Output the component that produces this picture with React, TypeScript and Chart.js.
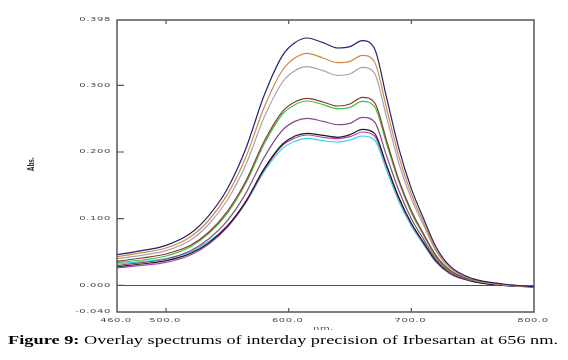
import React, { useEffect, useRef } from 'react';
import { Chart, registerables } from 'chart.js';
Chart.register(...registerables);

const wavelengths = [460, 480, 500, 520, 535, 550, 565, 580, 595, 605, 615, 628, 640, 650, 660, 670, 680, 690, 700, 710, 720, 732, 750, 775, 800];

const seriesNavy = [0.046, 0.052, 0.060, 0.078, 0.105, 0.145, 0.205, 0.285, 0.345, 0.364, 0.371, 0.364, 0.356, 0.358, 0.367, 0.355, 0.280, 0.204, 0.145, 0.100, 0.058, 0.028, 0.010, 0.002, -0.002];
const seriesOrange = [0.043, 0.049, 0.056, 0.073, 0.098, 0.136, 0.192, 0.267, 0.323, 0.341, 0.348, 0.341, 0.334, 0.336, 0.345, 0.335, 0.264, 0.192, 0.137, 0.094, 0.054, 0.026, 0.009, 0.001, -0.002];
const seriesGray = [0.040, 0.045, 0.052, 0.068, 0.092, 0.128, 0.181, 0.252, 0.305, 0.322, 0.328, 0.322, 0.315, 0.317, 0.327, 0.318, 0.251, 0.182, 0.130, 0.090, 0.052, 0.025, 0.009, 0.001, -0.002];
const seriesBrown = [0.036, 0.041, 0.047, 0.060, 0.080, 0.111, 0.156, 0.216, 0.261, 0.275, 0.2805, 0.275, 0.269, 0.272, 0.282, 0.274, 0.216, 0.157, 0.112, 0.077, 0.045, 0.022, 0.008, 0.001, -0.002];
const seriesGreen = [0.034, 0.038, 0.044, 0.058, 0.078, 0.108, 0.153, 0.212, 0.257, 0.271, 0.2765, 0.271, 0.265, 0.267, 0.276, 0.268, 0.211, 0.154, 0.109, 0.075, 0.043, 0.021, 0.008, 0.001, -0.002];
const seriesPurple = [0.030, 0.034, 0.0395, 0.052, 0.070, 0.097, 0.138, 0.192, 0.233, 0.246, 0.2505, 0.246, 0.241, 0.243, 0.252, 0.245, 0.193, 0.141, 0.100, 0.069, 0.040, 0.019, 0.007, 0.001, -0.002];
const seriesBlack = [0.028, 0.032, 0.037, 0.048, 0.064, 0.089, 0.126, 0.175, 0.212, 0.224, 0.228, 0.225, 0.222, 0.226, 0.234, 0.228, 0.179, 0.131, 0.093, 0.064, 0.037, 0.018, 0.006, 0.000, -0.002];
const seriesMagenta = [0.026, 0.030, 0.0345, 0.0455, 0.062, 0.087, 0.124, 0.173, 0.210, 0.221, 0.2255, 0.222, 0.220, 0.223, 0.230, 0.224, 0.177, 0.129, 0.092, 0.063, 0.036, 0.017, 0.006, 0.000, -0.003];
const seriesCyan = [0.032, 0.0355, 0.040, 0.0505, 0.066, 0.089, 0.124, 0.171, 0.2055, 0.216, 0.2205, 0.217, 0.215, 0.218, 0.224, 0.218, 0.172, 0.125, 0.089, 0.061, 0.035, 0.017, 0.006, 0.000, -0.002];

const seriesList = [seriesNavy, seriesOrange, seriesGray, seriesBrown, seriesGreen, seriesPurple, seriesBlack, seriesMagenta, seriesCyan];
const seriesColors = ['#22226e', '#d08a44', '#a8a2b2', '#8a3636', '#3cc43c', '#8c4a8c', '#1c1c1c', '#b048b0', '#36d0e6'];

const xTicks = [460, 500, 600, 700, 800];
const yTicks = [-0.04, 0, 0.1, 0.2, 0.3, 0.398];
const xTitle = 'nm.';
const yTitle = 'Abs.';
const captionBold = 'Figure 9:';
const captionRest = ' Overlay spectrums of interday precision of Irbesartan at 656 nm.';

function drawText(ctx: CanvasRenderingContext2D, text: string, x: number, y: number, font: string, align: CanvasTextAlign, sx: number, sy: number, rot = 0, spacing = '0px', color = '#4a4a4a') {
  ctx.save();
  ctx.translate(x, y);
  if (rot) ctx.rotate(rot);
  ctx.scale(sx, sy);
  ctx.font = font;
  (ctx as any).letterSpacing = spacing;
  ctx.textAlign = align;
  ctx.textBaseline = 'middle';
  ctx.fillStyle = color;
  ctx.fillText(text, 0, 0);
  ctx.restore();
}

const decorPlugin = {
  id: 'decor',
  beforeDatasetsDraw(chart: any) {
    const { ctx, chartArea, scales } = chart;
    const y0 = scales.y.getPixelForValue(0);
    ctx.save();
    ctx.strokeStyle = '#505050';
    ctx.lineWidth = 1;
    ctx.beginPath();
    ctx.moveTo(chartArea.left, Math.round(y0) + 0.5);
    ctx.lineTo(chartArea.right, Math.round(y0) + 0.5);
    ctx.stroke();
    ctx.restore();
  },
  afterDraw(chart: any) {
    const { ctx, chartArea, scales } = chart;
    const { left, right, top, bottom } = chartArea;
    ctx.save();
    ctx.strokeStyle = '#555555';
    ctx.lineWidth = 1.5;
    ctx.strokeRect(left, top, right - left, bottom - top);
    ctx.lineWidth = 1.2;
    ctx.beginPath();
    xTicks.forEach((v) => {
      const px = scales.x.getPixelForValue(v);
      if (v > 460 && v < 800) {
        ctx.moveTo(px, bottom);
        ctx.lineTo(px, bottom - 4);
        ctx.moveTo(px, top);
        ctx.lineTo(px, top + 4);
      }
    });
    yTicks.forEach((v) => {
      const py = scales.y.getPixelForValue(v);
      if (v > -0.04 && v < 0.398) {
        ctx.moveTo(left, py);
        ctx.lineTo(left + 7, py);
      }
    });
    ctx.stroke();
    ctx.restore();

    const tickFont = '10px "DejaVu Sans"';
    xTicks.forEach((v) => {
      const px = scales.x.getPixelForValue(v);
      drawText(ctx, v.toFixed(1), px - 1, bottom + 8.5, tickFont, 'center', 1, 0.55, 0, '0.6px');
    });
    yTicks.forEach((v) => {
      const py = scales.y.getPixelForValue(v);
      drawText(ctx, v.toFixed(3), left - 6, py, tickFont, 'right', 1, 0.55, 0, '0.6px');
    });
    drawText(ctx, xTitle, (left + right) / 2 - 2, bottom + 17, tickFont, 'center', 1, 0.55, 0, '0.6px');
    drawText(ctx, yTitle, 32, 164, 'bold 8px "DejaVu Sans"', 'center', 0.7, 1, -Math.PI / 2, '0px', '#333');

    // caption
    ctx.save();
    ctx.translate(8, 344);
    ctx.scale(1.145, 0.8);
    ctx.fillStyle = '#000';
    ctx.textBaseline = 'alphabetic';
    ctx.textAlign = 'left';
    ctx.font = 'bold 16px "Liberation Serif"';
    ctx.fillText(captionBold, 0, 0);
    const w = ctx.measureText(captionBold).width;
    ctx.font = '16px "Liberation Serif"';
    ctx.fillText(captionRest, w, 0);
    ctx.restore();
  },
};

export default function App() {
  const ref = useRef<HTMLCanvasElement>(null);
  useEffect(() => {
    if (!ref.current) return;
    const datasets = seriesList.map((s, i) => ({
      data: s.map((v, j) => ({ x: wavelengths[j], y: v })),
      borderColor: seriesColors[i],
      backgroundColor: seriesColors[i],
      borderWidth: 1.2,
      pointRadius: 0,
      cubicInterpolationMode: 'monotone' as const,
      fill: false,
    }));
    const chart = new Chart(ref.current, {
      type: 'line',
      data: { datasets },
      options: {
        animation: false,
        responsive: false,
        maintainAspectRatio: false,
        layout: { padding: { left: 0, right: 34, top: 20, bottom: 0 } },
        plugins: { legend: { display: false }, tooltip: { enabled: false } },
        scales: {
          x: {
            type: 'linear', min: 460, max: 800,
            grid: { display: false }, border: { display: false },
            ticks: { display: false },
            afterFit: (s: any) => { s.height = 48; },
          },
          y: {
            min: -0.04, max: 0.398,
            grid: { display: false }, border: { display: false },
            ticks: { display: false },
            afterFit: (s: any) => { s.width = 117; },
          },
        },
      },
      plugins: [decorPlugin],
    });
    return () => chart.destroy();
  }, []);
  return (
    <div style={{ position: 'fixed', left: 0, top: 0, width: 568, height: 360, background: '#fff' }}>
      <canvas ref={ref} width={568} height={360} style={{ display: 'block' }} />
    </div>
  );
}
